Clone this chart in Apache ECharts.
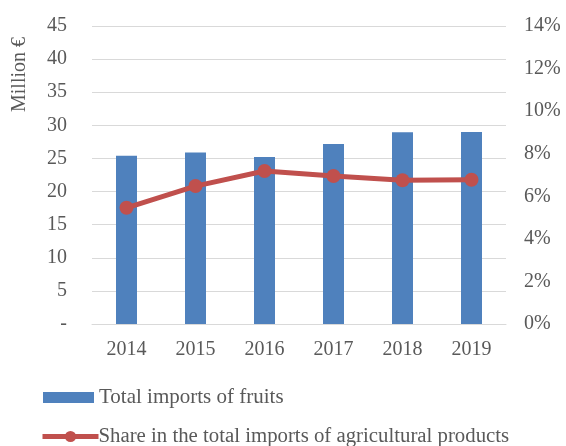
<!DOCTYPE html>
<html><head><meta charset="utf-8">
<script src="https://cdn.jsdelivr.net/npm/echarts@6/dist/echarts.min.js"></script>
<style>html,body{margin:0;padding:0;background:#fff}#c{width:566px;height:446px}</style>
</head><body><div id="c"></div>
<script>
const years = ['2014','2015','2016','2017','2018','2019'];
const importsFruits = [25.4, 25.9, 25.2, 27.2, 28.95, 29.0];
const shareAgri = [5.46, 6.48, 7.19, 6.95, 6.75, 6.78];
const leftTicks = {min: 0, max: 45, interval: 5};
const rightTicks = {min: 0, max: 14, interval: 2};
const FONT = '"Liberation Serif","Times New Roman",serif';
const TXT = '#595959';
const chart = echarts.init(document.getElementById('c'));
chart.setOption({
  animation: false,
  grid: {left: 92, right: 60, top: 26, bottom: 122},
  legend: [
    {data: [{name: 'Total imports of fruits', icon: 'rect'}], left: 38, top: 382, itemWidth: 51, itemHeight: 11, itemGap: 4,
     textStyle: {fontFamily: FONT, fontSize: 21, color: TXT, padding: [0,0,0,0]}},
    {data: ['Share in the total imports of agricultural products'], left: 35, top: 421, itemWidth: 56, itemHeight: 14,
     lineStyle: {width: 5},
     textStyle: {fontFamily: FONT, fontSize: 20.8, color: TXT, padding: [0,0,0,-5]}}
  ],
  graphic: [{type: 'text', left: 10, top: 37, rotation: Math.PI/2,
    style: {text: 'Million €', font: '20px ' + FONT, fill: TXT}}],
  xAxis: {type: 'category', data: years,
    axisLine: {lineStyle: {color: '#d9d9d9', width: 1}}, axisTick: {show: false},
    axisLabel: {fontFamily: FONT, fontSize: 20, color: TXT, margin: 16}},
  yAxis: [
    {type: 'value', min: leftTicks.min, max: leftTicks.max, interval: leftTicks.interval,
     axisLine: {show: false}, axisTick: {show: false},
     splitLine: {lineStyle: {color: '#d9d9d9', width: 1}},
     axisLabel: {fontFamily: FONT, fontSize: 20, color: TXT, margin: 25,
       formatter: v => v === 0 ? '-' : String(v)}},
    {type: 'value', min: rightTicks.min, max: rightTicks.max, interval: rightTicks.interval,
     axisLine: {show: false}, axisTick: {show: false}, splitLine: {show: false},
     axisLabel: {fontFamily: FONT, fontSize: 20, color: TXT, margin: 18,
       formatter: v => v + '%'}}
  ],
  series: [
    {name: 'Total imports of fruits', type: 'bar', data: importsFruits, barWidth: 21,
     itemStyle: {color: '#4F81BD'}},
    {name: 'Share in the total imports of agricultural products', type: 'line', yAxisIndex: 1,
     data: shareAgri, symbol: 'circle', symbolSize: 14,
     lineStyle: {color: '#C0504D', width: 5}, itemStyle: {color: '#C0504D'}}
  ]
});
</script></body></html>
